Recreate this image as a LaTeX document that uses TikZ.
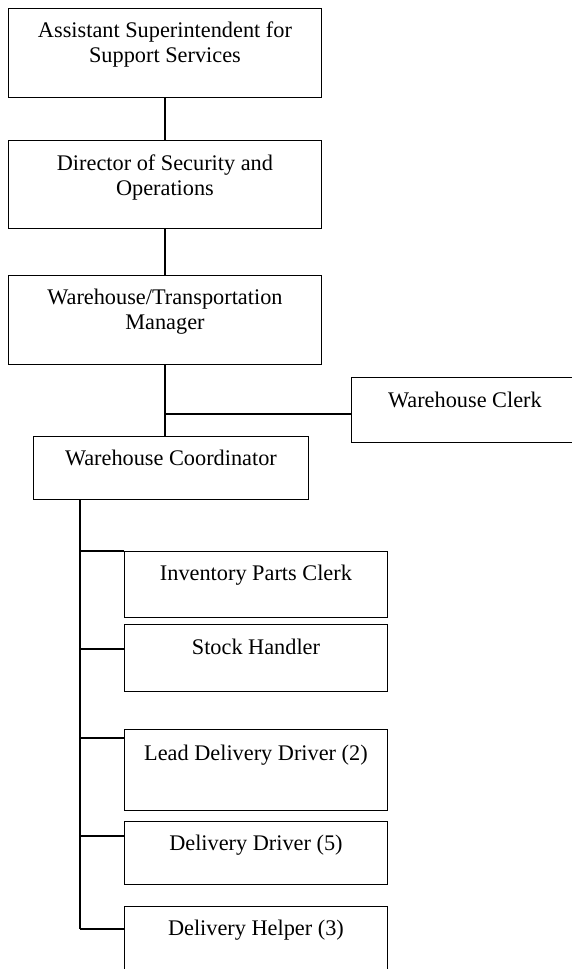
\documentclass[tikz,border=0pt]{standalone}
\usepackage{fontspec}
\setmainfont{Liberation Serif}

\begin{document}
\begin{tikzpicture}[x=1pt,y=-1pt,
        post/.style={draw,line width=0.9pt,anchor=north west,inner sep=0pt,align=center,
                font=\fontsize{22.3}{25.5}\selectfont},
        link/.style={line width=1.3pt}]
        \useasboundingbox (0,0) rectangle (571,969);
        \node[post,minimum width=313pt,text height=54.5pt,text depth=34.5pt] (asst) at (8,8) {Assistant Superintendent for\\Support Services};
        \node[post,minimum width=313pt,text height=55.5pt,text depth=32.5pt] (dir) at (8,140) {Director of Security and\\Operations};
        \node[post,minimum width=313pt,text height=54.5pt,text depth=34.5pt] (mgr) at (8,275) {Warehouse/Transportation\\Manager};
        \node[post,minimum width=227pt,text height=30pt,text depth=35pt] (clerk) at (351,377) {Warehouse Clerk};
        \node[post,minimum width=275pt,text height=29pt,text depth=34pt] (coord) at (33,436) {Warehouse Coordinator};
        \node[post,minimum width=263pt,text height=29pt,text depth=37pt] (inv) at (124,551) {Inventory Parts Clerk};
        \node[post,minimum width=263pt,text height=30pt,text depth=37pt] (stock) at (124,624) {Stock Handler};
        \node[post,minimum width=263pt,text height=31pt,text depth=50pt] (lead) at (124,729) {Lead Delivery Driver (2)};
        \node[post,minimum width=263pt,text height=29pt,text depth=34pt] (drv) at (124,821) {Delivery Driver (5)};
        \node[post,minimum width=263pt,text height=29pt,text depth=46pt] (help) at (124,906) {Delivery Helper (3)};
        \draw[link] (asst) -- (dir);
        \draw[link] (dir) -- (mgr);
        \draw[link] (mgr.south) -- (mgr.south |- coord.north);
        \coordinate (jc) at (164.5,414);
        \draw[link] (jc) -- (jc -| clerk.west);
        \foreach \b/\y in {inv/551,stock/649,lead/738,drv/836,help/929}{
                \coordinate (b-\b) at (80,\y);
                \draw[link] (b-\b) -- (b-\b -| \b.west);
        }
        \draw[link] (coord.south -| b-inv) -- (b-help);
\end{tikzpicture}
\end{document}
